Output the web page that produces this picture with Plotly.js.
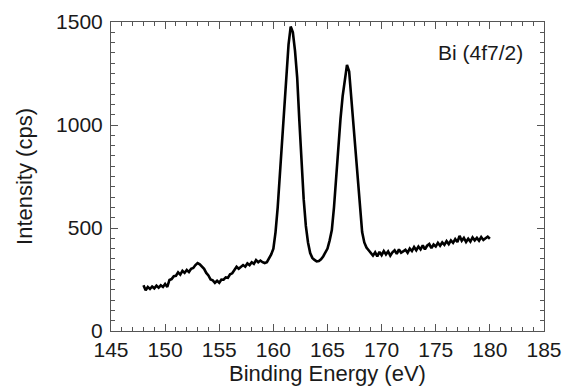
<!DOCTYPE html>
<html>
<head>
<meta charset="utf-8">
<script src="https://cdn.plot.ly/plotly-3.0.1.min.js"></script>
<style>html,body{margin:0;padding:0;background:#fff;}#chart{width:569px;height:392px;}</style>
</head>
<body>
<div id="chart"></div>
<script>
var bindingEnergy = [
148.0,148.2,148.4,148.6,148.8,149.0,149.2,149.4,149.6,149.8,
150.0,150.2,150.4,150.6,150.8,151.0,151.2,151.4,151.6,151.8,
152.0,152.2,152.4,152.6,152.8,153.0,153.2,153.4,153.6,153.8,
154.0,154.2,154.4,154.6,154.8,155.0,155.2,155.4,155.6,155.8,
156.0,156.2,156.4,156.6,156.8,157.0,157.2,157.4,157.6,157.8,
158.0,158.2,158.4,158.6,158.8,159.0,159.2,159.4,159.6,159.8,
160.0,160.2,160.4,160.6,160.8,161.0,161.2,161.4,161.6,161.8,
162.0,162.2,162.4,162.6,162.8,163.0,163.2,163.4,163.6,163.8,
164.0,164.2,164.4,164.6,164.8,165.0,165.2,165.4,165.6,165.8,
166.0,166.2,166.4,166.6,166.8,167.0,167.2,167.4,167.6,167.8,
168.0,168.2,168.4,168.6,168.8,169.0,169.2,169.4,169.6,169.8,
170.0,170.2,170.4,170.6,170.8,171.0,171.2,171.4,171.6,171.8,
172.0,172.2,172.4,172.6,172.8,173.0,173.2,173.4,173.6,173.8,
174.0,174.2,174.4,174.6,174.8,175.0,175.2,175.4,175.6,175.8,
176.0,176.2,176.4,176.6,176.8,177.0,177.2,177.4,177.6,177.8,
178.0,178.2,178.4,178.6,178.8,179.0,179.2,179.4,179.6,179.8,
180.0
];
var intensity = [
222,198,214,204,216,207,220,210,222,214,
228,214,248,252,266,268,285,274,292,282,
296,286,302,306,320,330,324,313,302,282,
270,250,246,234,244,234,250,249,260,258,
275,280,298,312,302,310,320,312,328,320,
334,326,344,334,342,334,330,334,350,372,
400,480,600,760,930,1100,1260,1390,1478,1450,
1360,1230,1020,800,640,510,430,378,355,345,
338,340,348,362,380,400,440,490,600,760,
900,1030,1140,1230,1292,1260,1130,990,880,770,
610,480,430,405,392,378,366,382,362,384,
368,388,372,386,366,382,392,374,396,380,
386,394,380,400,388,408,392,410,396,416,
396,414,422,402,420,410,428,414,430,418,
436,422,440,428,446,432,462,438,452,432,
448,434,454,440,452,438,456,442,450,458,
448
];
var xTickVals = [145,150,155,160,165,170,175,180,185];
var yTickVals = [0,500,1000,1500];
var labelText = "Bi (4f7/2)";
var xTitle = "Binding Energy (eV)";
var yTitle = "Intensity (cps)";

var fontFam = "Liberation Sans, Arial, sans-serif";
var axisCol = "#555555";
var txtCol = "#1a1a1a";

var trace = {
  x: bindingEnergy, y: intensity, type: "scatter", mode: "lines",
  line: {color: "#000000", width: 2.6}, hoverinfo: "skip"
};

var layout = {
  width: 569, height: 392,
  margin: {l: 111, r: 25, t: 22, b: 61},
  paper_bgcolor: "#ffffff", plot_bgcolor: "#ffffff",
  showlegend: false,
  font: {family: fontFam, color: txtCol, size: 21},
  xaxis: {
    range: [145, 185], tickvals: xTickVals, ticks: "inside", ticklen: 7,
    tickcolor: axisCol, tickwidth: 1, showline: true, linecolor: axisCol, linewidth: 1,
    mirror: "allticks", showgrid: false, zeroline: false,
    minor: {dtick: 1, ticks: "inside", ticklen: 4, tickcolor: axisCol, tickwidth: 1, showgrid: false},
    tickfont: {size: 21, family: fontFam, color: txtCol},
    title: {text: xTitle, font: {size: 22, family: fontFam, color: txtCol}, standoff: 0}
  },
  yaxis: {
    range: [0, 1500], tickvals: yTickVals, ticks: "inside", ticklen: 7,
    tickcolor: axisCol, tickwidth: 1, showline: true, linecolor: axisCol, linewidth: 1,
    mirror: "allticks", showgrid: false, zeroline: false, ticklabelstandoff: 3,
    minor: {dtick: 50, ticks: "inside", ticklen: 4, tickcolor: axisCol, tickwidth: 1, showgrid: false},
    tickfont: {size: 21, family: fontFam, color: txtCol},
    title: {text: yTitle, font: {size: 22, family: fontFam, color: txtCol}, standoff: 17}
  },
  annotations: [{
    text: labelText, xref: "paper", yref: "paper", x: 0.955, y: 0.9,
    xanchor: "right", yanchor: "middle", showarrow: false,
    font: {size: 21, family: fontFam, color: txtCol}
  }]
};

Plotly.newPlot("chart", [trace], layout, {staticPlot: true, displayModeBar: false});
</script>
</body>
</html>
